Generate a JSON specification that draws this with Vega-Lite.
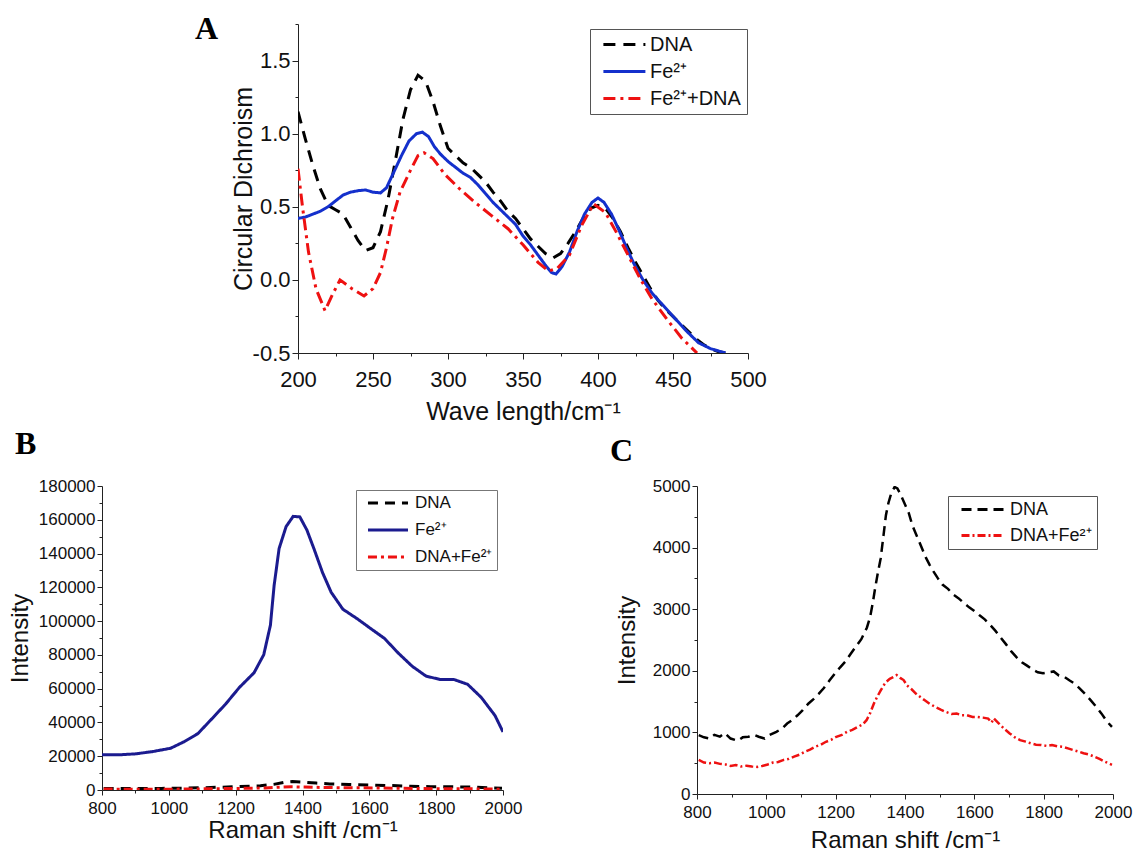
{
  "$schema": "https://vega.github.io/schema/vega-lite/v6.json",
  "background": "white",
  "padding": {"left": 8, "top": 13, "right": 2, "bottom": 2},
  "config": {
    "view": {"stroke": null},
    "font": "Liberation Sans",
    "axis": {"grid": false, "domainColor": "#222", "tickColor": "#222", "labelColor": "#111", "titleColor": "#111", "titleFontWeight": "normal", "labelFont": "Liberation Sans", "titleFont": "Liberation Sans", "domainWidth": 1, "tickWidth": 1, "labelOverlap": false, "labelFlush": false, "labelPadding": 2}
  },
  "spacing": 4,
  "resolve": {"scale": {"color": "independent", "strokeDash": "independent"}, "legend": {"color": "independent", "strokeDash": "independent"}},
  "vconcat": [
    {
      "bounds": "flush",
      "spacing": 0,
      "resolve": {"scale": {"color": "independent", "strokeDash": "independent"}, "legend": {"color": "independent", "strokeDash": "independent"}},
      "hconcat": [
        {"width": 196, "height": 1, "data": {"values": []}, "mark": {"type": "point", "opacity": 0}},
        {
          "width": 450, "height": 329,
          "title": {"text": "A", "anchor": "start", "frame": "group", "dx": -103, "offset": -58, "baseline": "alphabetic", "font": "Liberation Serif", "fontSize": 32, "fontWeight": "bold", "color": "#000"},
          "data": {"values": [
            {"s":"DNA","x":200,"y":1.15},{"s":"DNA","x":205,"y":0.96},{"s":"DNA","x":210,"y":0.78},{"s":"DNA","x":215,"y":0.62},{"s":"DNA","x":220,"y":0.51},{"s":"DNA","x":225,"y":0.48},{"s":"DNA","x":230,"y":0.45},{"s":"DNA","x":235,"y":0.36},{"s":"DNA","x":240,"y":0.27},{"s":"DNA","x":245,"y":0.2},{"s":"DNA","x":250,"y":0.22},{"s":"DNA","x":255,"y":0.33},{"s":"DNA","x":260,"y":0.55},{"s":"DNA","x":265,"y":0.82},{"s":"DNA","x":270,"y":1.1},{"s":"DNA","x":275,"y":1.3},{"s":"DNA","x":280,"y":1.4},{"s":"DNA","x":285,"y":1.36},{"s":"DNA","x":290,"y":1.22},{"s":"DNA","x":295,"y":1.05},{"s":"DNA","x":300,"y":0.9},{"s":"DNA","x":305,"y":0.85},{"s":"DNA","x":310,"y":0.8},{"s":"DNA","x":315,"y":0.77},{"s":"DNA","x":320,"y":0.72},{"s":"DNA","x":325,"y":0.67},{"s":"DNA","x":330,"y":0.6},{"s":"DNA","x":335,"y":0.54},{"s":"DNA","x":340,"y":0.47},{"s":"DNA","x":345,"y":0.42},{"s":"DNA","x":350,"y":0.35},{"s":"DNA","x":355,"y":0.28},{"s":"DNA","x":360,"y":0.23},{"s":"DNA","x":365,"y":0.18},{"s":"DNA","x":370,"y":0.15},{"s":"DNA","x":375,"y":0.18},{"s":"DNA","x":380,"y":0.25},{"s":"DNA","x":385,"y":0.33},{"s":"DNA","x":390,"y":0.42},{"s":"DNA","x":395,"y":0.49},{"s":"DNA","x":400,"y":0.51},{"s":"DNA","x":405,"y":0.49},{"s":"DNA","x":410,"y":0.42},{"s":"DNA","x":415,"y":0.33},{"s":"DNA","x":420,"y":0.22},{"s":"DNA","x":425,"y":0.12},{"s":"DNA","x":430,"y":0.03},{"s":"DNA","x":435,"y":-0.06},{"s":"DNA","x":440,"y":-0.14},{"s":"DNA","x":445,"y":-0.2},{"s":"DNA","x":450,"y":-0.25},{"s":"DNA","x":455,"y":-0.3},{"s":"DNA","x":460,"y":-0.35},{"s":"DNA","x":465,"y":-0.4},{"s":"DNA","x":470,"y":-0.44},{"s":"DNA","x":475,"y":-0.47},{"s":"DNA","x":480,"y":-0.49},{"s":"DNA","x":485,"y":-0.5},
            {"s":"Fe²⁺","x":200,"y":0.42},{"s":"Fe²⁺","x":205,"y":0.43},{"s":"Fe²⁺","x":210,"y":0.45},{"s":"Fe²⁺","x":215,"y":0.47},{"s":"Fe²⁺","x":220,"y":0.5},{"s":"Fe²⁺","x":225,"y":0.54},{"s":"Fe²⁺","x":230,"y":0.58},{"s":"Fe²⁺","x":235,"y":0.6},{"s":"Fe²⁺","x":240,"y":0.61},{"s":"Fe²⁺","x":245,"y":0.615},{"s":"Fe²⁺","x":250,"y":0.6},{"s":"Fe²⁺","x":255,"y":0.595},{"s":"Fe²⁺","x":259,"y":0.63},{"s":"Fe²⁺","x":264,"y":0.74},{"s":"Fe²⁺","x":269,"y":0.85},{"s":"Fe²⁺","x":274,"y":0.95},{"s":"Fe²⁺","x":279,"y":1.0},{"s":"Fe²⁺","x":283,"y":1.01},{"s":"Fe²⁺","x":287,"y":0.98},{"s":"Fe²⁺","x":291,"y":0.91},{"s":"Fe²⁺","x":295,"y":0.86},{"s":"Fe²⁺","x":300,"y":0.81},{"s":"Fe²⁺","x":305,"y":0.77},{"s":"Fe²⁺","x":310,"y":0.73},{"s":"Fe²⁺","x":315,"y":0.7},{"s":"Fe²⁺","x":320,"y":0.65},{"s":"Fe²⁺","x":325,"y":0.59},{"s":"Fe²⁺","x":330,"y":0.53},{"s":"Fe²⁺","x":335,"y":0.48},{"s":"Fe²⁺","x":340,"y":0.43},{"s":"Fe²⁺","x":345,"y":0.38},{"s":"Fe²⁺","x":350,"y":0.3},{"s":"Fe²⁺","x":355,"y":0.24},{"s":"Fe²⁺","x":360,"y":0.17},{"s":"Fe²⁺","x":365,"y":0.1},{"s":"Fe²⁺","x":369,"y":0.05},{"s":"Fe²⁺","x":372,"y":0.04},{"s":"Fe²⁺","x":376,"y":0.09},{"s":"Fe²⁺","x":381,"y":0.19},{"s":"Fe²⁺","x":386,"y":0.33},{"s":"Fe²⁺","x":391,"y":0.45},{"s":"Fe²⁺","x":396,"y":0.53},{"s":"Fe²⁺","x":400,"y":0.56},{"s":"Fe²⁺","x":404,"y":0.53},{"s":"Fe²⁺","x":409,"y":0.45},{"s":"Fe²⁺","x":414,"y":0.34},{"s":"Fe²⁺","x":419,"y":0.22},{"s":"Fe²⁺","x":424,"y":0.11},{"s":"Fe²⁺","x":430,"y":0.0},{"s":"Fe²⁺","x":436,"y":-0.09},{"s":"Fe²⁺","x":443,"y":-0.17},{"s":"Fe²⁺","x":451,"y":-0.26},{"s":"Fe²⁺","x":459,"y":-0.35},{"s":"Fe²⁺","x":467,"y":-0.43},{"s":"Fe²⁺","x":475,"y":-0.47},{"s":"Fe²⁺","x":485,"y":-0.5},
            {"s":"Fe²⁺+DNA","x":200,"y":0.76},{"s":"Fe²⁺+DNA","x":203,"y":0.5},{"s":"Fe²⁺+DNA","x":207,"y":0.19},{"s":"Fe²⁺+DNA","x":212,"y":-0.06},{"s":"Fe²⁺+DNA","x":218,"y":-0.21},{"s":"Fe²⁺+DNA","x":223,"y":-0.1},{"s":"Fe²⁺+DNA","x":228,"y":0.0},{"s":"Fe²⁺+DNA","x":236,"y":-0.06},{"s":"Fe²⁺+DNA","x":244,"y":-0.11},{"s":"Fe²⁺+DNA","x":250,"y":-0.06},{"s":"Fe²⁺+DNA","x":255,"y":0.05},{"s":"Fe²⁺+DNA","x":259,"y":0.22},{"s":"Fe²⁺+DNA","x":263,"y":0.42},{"s":"Fe²⁺+DNA","x":268,"y":0.6},{"s":"Fe²⁺+DNA","x":275,"y":0.75},{"s":"Fe²⁺+DNA","x":280,"y":0.85},{"s":"Fe²⁺+DNA","x":284,"y":0.87},{"s":"Fe²⁺+DNA","x":290,"y":0.83},{"s":"Fe²⁺+DNA","x":298,"y":0.72},{"s":"Fe²⁺+DNA","x":308,"y":0.62},{"s":"Fe²⁺+DNA","x":318,"y":0.53},{"s":"Fe²⁺+DNA","x":329,"y":0.44},{"s":"Fe²⁺+DNA","x":340,"y":0.35},{"s":"Fe²⁺+DNA","x":350,"y":0.24},{"s":"Fe²⁺+DNA","x":360,"y":0.12},{"s":"Fe²⁺+DNA","x":367,"y":0.06},{"s":"Fe²⁺+DNA","x":373,"y":0.08},{"s":"Fe²⁺+DNA","x":381,"y":0.17},{"s":"Fe²⁺+DNA","x":389,"y":0.37},{"s":"Fe²⁺+DNA","x":397,"y":0.52},{"s":"Fe²⁺+DNA","x":405,"y":0.46},{"s":"Fe²⁺+DNA","x":412,"y":0.33},{"s":"Fe²⁺+DNA","x":420,"y":0.17},{"s":"Fe²⁺+DNA","x":428,"y":0.01},{"s":"Fe²⁺+DNA","x":436,"y":-0.13},{"s":"Fe²⁺+DNA","x":446,"y":-0.27},{"s":"Fe²⁺+DNA","x":456,"y":-0.4},{"s":"Fe²⁺+DNA","x":466,"y":-0.5}
          ]},
          "mark": {"type": "line", "clip": true, "strokeWidth": 3},
          "encoding": {
            "x": {"field": "x", "type": "quantitative", "scale": {"domain": [200, 500], "nice": false, "zero": false},
              "axis": {"values": [200,225,250,275,300,325,350,375,400,425,450,475,500], "labelExpr": "datum.value % 50 === 0 ? datum.label : ''", "format": "d",
                "tickSize": {"condition": {"test": "datum.value % 50 === 0", "value": 6}, "value": 3},
                "title": "Wave length/cm⁻¹", "titleFontSize": 25, "labelFontSize": 22, "labelPadding": 10, "titlePadding": 9}},
            "y": {"field": "y", "type": "quantitative", "scale": {"domain": [-0.5, 1.75], "nice": false, "zero": false},
              "axis": {"values": [-0.5,-0.25,0,0.25,0.5,0.75,1,1.25,1.5,1.75], "labelExpr": "(datum.value*4) % 2 === 0 ? replace(format(datum.value, '.1f'), '−', '-') : ''",
                "tickSize": {"condition": {"test": "(datum.value*4) % 2 === 0", "value": 6}, "value": 3},
                "title": "Circular Dichroism", "titleFontSize": 25, "labelFontSize": 22, "titleX": -42}},
            "color": {"field": "s", "type": "nominal", "scale": {"domain": ["DNA", "Fe²⁺", "Fe²⁺+DNA"], "range": ["#000000", "#1430cc", "#ee1111"]},
              "legend": {"title": null, "orient": "none", "legendX": 292, "legendY": 5, "direction": "vertical", "strokeColor": "#555", "fillColor": "#fff", "padding": 5.5, "symbolType": "M-0.3,0H5.7", "symbolSize": 196, "symbolStrokeWidth": 3, "labelFontSize": 20, "labelFont": "Liberation Sans", "labelColor": "#111", "labelOffset": 34.5, "rowPadding": 7, "labelLimit": 300}},
            "strokeDash": {"field": "s", "type": "nominal", "scale": {"domain": ["DNA", "Fe²⁺", "Fe²⁺+DNA"], "range": [[12, 8], [1, 0], [12, 5, 3, 5]]},
              "legend": {"title": null, "orient": "none", "legendX": 292, "legendY": 5, "direction": "vertical", "strokeColor": "#555", "fillColor": "#fff", "padding": 5.5, "symbolType": "M-0.3,0H5.7", "symbolSize": 196, "symbolStrokeWidth": 3, "labelFontSize": 20, "labelFont": "Liberation Sans", "labelColor": "#111", "labelOffset": 34.5, "rowPadding": 7, "labelLimit": 300}}
          }
        }
      ]
    },
    {
      "bounds": "flush",
      "spacing": 194,
      "resolve": {"scale": {"color": "independent", "strokeDash": "independent"}, "legend": {"color": "independent", "strokeDash": "independent"}},
      "hconcat": [
        {
          "width": 401, "height": 304,
          "title": {"text": "B", "anchor": "start", "frame": "group", "dx": -87, "offset": -9, "baseline": "alphabetic", "font": "Liberation Serif", "fontSize": 32, "fontWeight": "bold", "color": "#000"},
          "data": {"values": [
            {"s":"Fe²⁺","x":800,"y":20800},{"s":"Fe²⁺","x":850,"y":20800},{"s":"Fe²⁺","x":900,"y":21400},{"s":"Fe²⁺","x":950,"y":22700},{"s":"Fe²⁺","x":1005,"y":24700},{"s":"Fe²⁺","x":1046,"y":28600},{"s":"Fe²⁺","x":1087,"y":33400},{"s":"Fe²⁺","x":1129,"y":42200},{"s":"Fe²⁺","x":1170,"y":50900},{"s":"Fe²⁺","x":1211,"y":60700},{"s":"Fe²⁺","x":1255,"y":69400},{"s":"Fe²⁺","x":1284,"y":80100},{"s":"Fe²⁺","x":1304,"y":97600},{"s":"Fe²⁺","x":1315,"y":121000},{"s":"Fe²⁺","x":1330,"y":143000},{"s":"Fe²⁺","x":1351,"y":156000},{"s":"Fe²⁺","x":1372,"y":162000},{"s":"Fe²⁺","x":1392,"y":161700},{"s":"Fe²⁺","x":1413,"y":154000},{"s":"Fe²⁺","x":1434,"y":143000},{"s":"Fe²⁺","x":1460,"y":128700},{"s":"Fe²⁺","x":1486,"y":117000},{"s":"Fe²⁺","x":1521,"y":107000},{"s":"Fe²⁺","x":1563,"y":101500},{"s":"Fe²⁺","x":1604,"y":95600},{"s":"Fe²⁺","x":1645,"y":89800},{"s":"Fe²⁺","x":1687,"y":81000},{"s":"Fe²⁺","x":1728,"y":73300},{"s":"Fe²⁺","x":1770,"y":67400},{"s":"Fe²⁺","x":1811,"y":65500},{"s":"Fe²⁺","x":1852,"y":65500},{"s":"Fe²⁺","x":1894,"y":62600},{"s":"Fe²⁺","x":1935,"y":54800},{"s":"Fe²⁺","x":1976,"y":44100},{"s":"Fe²⁺","x":2000,"y":34400},
            {"s":"DNA","x":805,"y":956},{"s":"DNA","x":866,"y":956},{"s":"DNA","x":917,"y":875},{"s":"DNA","x":978,"y":956},{"s":"DNA","x":1029,"y":1010},{"s":"DNA","x":1090,"y":1278},{"s":"DNA","x":1151,"y":1627},{"s":"DNA","x":1213,"y":2057},{"s":"DNA","x":1274,"y":2513},{"s":"DNA","x":1314,"y":3346},{"s":"DNA","x":1345,"y":4527},{"s":"DNA","x":1370,"y":4984},{"s":"DNA","x":1401,"y":4688},{"s":"DNA","x":1441,"y":4098},{"s":"DNA","x":1482,"y":3614},{"s":"DNA","x":1539,"y":3238},{"s":"DNA","x":1600,"y":2970},{"s":"DNA","x":1661,"y":2648},{"s":"DNA","x":1722,"y":2218},{"s":"DNA","x":1783,"y":1976},{"s":"DNA","x":1844,"y":1923},{"s":"DNA","x":1905,"y":1708},{"s":"DNA","x":1967,"y":1305},{"s":"DNA","x":1997,"y":1090},
            {"s":"DNA+Fe²⁺","x":805,"y":553},{"s":"DNA+Fe²⁺","x":866,"y":489},{"s":"DNA+Fe²⁺","x":927,"y":446},{"s":"DNA+Fe²⁺","x":988,"y":456},{"s":"DNA+Fe²⁺","x":1050,"y":553},{"s":"DNA+Fe²⁺","x":1111,"y":687},{"s":"DNA+Fe²⁺","x":1172,"y":848},{"s":"DNA+Fe²⁺","x":1233,"y":1010},{"s":"DNA+Fe²⁺","x":1289,"y":1198},{"s":"DNA+Fe²⁺","x":1330,"y":1681},{"s":"DNA+Fe²⁺","x":1366,"y":1896},{"s":"DNA+Fe²⁺","x":1406,"y":1761},{"s":"DNA+Fe²⁺","x":1457,"y":1520},{"s":"DNA+Fe²⁺","x":1518,"y":1332},{"s":"DNA+Fe²⁺","x":1579,"y":1278},{"s":"DNA+Fe²⁺","x":1640,"y":1224},{"s":"DNA+Fe²⁺","x":1702,"y":983},{"s":"DNA+Fe²⁺","x":1763,"y":822},{"s":"DNA+Fe²⁺","x":1824,"y":795},{"s":"DNA+Fe²⁺","x":1885,"y":714},{"s":"DNA+Fe²⁺","x":1946,"y":607},{"s":"DNA+Fe²⁺","x":1997,"y":473}
          ]},
          "mark": {"type": "line", "clip": true, "strokeWidth": 3},
          "encoding": {
            "x": {"field": "x", "type": "quantitative", "scale": {"domain": [800, 2000], "nice": false, "zero": false},
              "axis": {"values": [800,900,1000,1100,1200,1300,1400,1500,1600,1700,1800,1900,2000], "format": "d", "labelExpr": "datum.value % 200 === 0 ? datum.label : ''",
                "tickSize": {"condition": {"test": "datum.value % 200 === 0", "value": 5}, "value": 3},
                "title": "Raman shift /cm⁻¹", "titleFontSize": 24, "labelFontSize": 17, "labelPadding": 5, "titlePadding": 2}},
            "y": {"field": "y", "type": "quantitative", "scale": {"domain": [0, 180000], "nice": false, "zero": false},
              "axis": {"values": [0,10000,20000,30000,40000,50000,60000,70000,80000,90000,100000,110000,120000,130000,140000,150000,160000,170000,180000], "format": "d", "labelExpr": "datum.value % 20000 === 0 ? datum.label : ''",
                "tickSize": {"condition": {"test": "datum.value % 20000 === 0", "value": 5}, "value": 3},
                "title": "Intensity", "titleFontSize": 24, "labelFontSize": 17, "titlePadding": 6}},
            "color": {"field": "s", "type": "nominal", "scale": {"domain": ["DNA", "Fe²⁺", "DNA+Fe²⁺"], "range": ["#000000", "#1b1b8f", "#ee1111"]},
              "legend": {"title": null, "orient": "none", "legendX": 254, "legendY": 4, "direction": "vertical", "strokeColor": "#777", "fillColor": "#fff", "padding": 4.5, "symbolType": "M-0.17,0H6.5", "symbolSize": 144, "symbolStrokeWidth": 3, "labelFontSize": 17, "labelFont": "Liberation Sans", "labelColor": "#111", "labelOffset": 37.5, "rowPadding": 9, "labelLimit": 300}},
            "strokeDash": {"field": "s", "type": "nominal", "scale": {"domain": ["DNA", "Fe²⁺", "DNA+Fe²⁺"], "range": [[10, 7], [1, 0], [9, 4, 3, 4]]},
              "legend": {"title": null, "orient": "none", "legendX": 254, "legendY": 4, "direction": "vertical", "strokeColor": "#777", "fillColor": "#fff", "padding": 4.5, "symbolType": "M-0.17,0H6.5", "symbolSize": 144, "symbolStrokeWidth": 3, "labelFontSize": 17, "labelFont": "Liberation Sans", "labelColor": "#111", "labelOffset": 37.5, "rowPadding": 9, "labelLimit": 300}}
          }
        },
        {
          "width": 416, "height": 308,
          "title": {"text": "C", "anchor": "start", "frame": "group", "dx": -87, "offset": -16, "baseline": "alphabetic", "font": "Liberation Serif", "fontSize": 32, "fontWeight": "bold", "color": "#000"},
          "data": {"values": [
            {"s":"DNA","x":805,"y":956},{"s":"DNA","x":820,"y":920},{"s":"DNA","x":836,"y":900},{"s":"DNA","x":850,"y":960},{"s":"DNA","x":866,"y":930},{"s":"DNA","x":880,"y":990},{"s":"DNA","x":897,"y":900},{"s":"DNA","x":917,"y":865},{"s":"DNA","x":932,"y":920},{"s":"DNA","x":948,"y":929},{"s":"DNA","x":965,"y":960},{"s":"DNA","x":978,"y":930},{"s":"DNA","x":995,"y":900},{"s":"DNA","x":1009,"y":956},{"s":"DNA","x":1029,"y":1010},{"s":"DNA","x":1045,"y":1060},{"s":"DNA","x":1060,"y":1144},{"s":"DNA","x":1075,"y":1200},{"s":"DNA","x":1090,"y":1278},{"s":"DNA","x":1105,"y":1360},{"s":"DNA","x":1121,"y":1466},{"s":"DNA","x":1136,"y":1540},{"s":"DNA","x":1151,"y":1627},{"s":"DNA","x":1166,"y":1720},{"s":"DNA","x":1182,"y":1842},{"s":"DNA","x":1197,"y":1950},{"s":"DNA","x":1213,"y":2057},{"s":"DNA","x":1228,"y":2150},{"s":"DNA","x":1243,"y":2272},{"s":"DNA","x":1258,"y":2390},{"s":"DNA","x":1274,"y":2513},{"s":"DNA","x":1290,"y":2700},{"s":"DNA","x":1299,"y":2862},{"s":"DNA","x":1307,"y":3100},{"s":"DNA","x":1314,"y":3346},{"s":"DNA","x":1322,"y":3600},{"s":"DNA","x":1330,"y":3829},{"s":"DNA","x":1338,"y":4200},{"s":"DNA","x":1345,"y":4527},{"s":"DNA","x":1352,"y":4720},{"s":"DNA","x":1360,"y":4876},{"s":"DNA","x":1370,"y":4984},{"s":"DNA","x":1378,"y":4960},{"s":"DNA","x":1386,"y":4876},{"s":"DNA","x":1401,"y":4688},{"s":"DNA","x":1411,"y":4560},{"s":"DNA","x":1421,"y":4366},{"s":"DNA","x":1431,"y":4230},{"s":"DNA","x":1441,"y":4098},{"s":"DNA","x":1451,"y":3960},{"s":"DNA","x":1461,"y":3829},{"s":"DNA","x":1471,"y":3720},{"s":"DNA","x":1482,"y":3614},{"s":"DNA","x":1495,"y":3500},{"s":"DNA","x":1508,"y":3400},{"s":"DNA","x":1524,"y":3330},{"s":"DNA","x":1539,"y":3238},{"s":"DNA","x":1554,"y":3180},{"s":"DNA","x":1569,"y":3104},{"s":"DNA","x":1585,"y":3030},{"s":"DNA","x":1600,"y":2970},{"s":"DNA","x":1615,"y":2900},{"s":"DNA","x":1630,"y":2835},{"s":"DNA","x":1645,"y":2750},{"s":"DNA","x":1661,"y":2648},{"s":"DNA","x":1676,"y":2540},{"s":"DNA","x":1691,"y":2433},{"s":"DNA","x":1706,"y":2320},{"s":"DNA","x":1722,"y":2218},{"s":"DNA","x":1737,"y":2140},{"s":"DNA","x":1752,"y":2084},{"s":"DNA","x":1768,"y":2020},{"s":"DNA","x":1783,"y":1976},{"s":"DNA","x":1798,"y":1960},{"s":"DNA","x":1814,"y":1976},{"s":"DNA","x":1829,"y":1990},{"s":"DNA","x":1844,"y":1923},{"s":"DNA","x":1860,"y":1900},{"s":"DNA","x":1875,"y":1842},{"s":"DNA","x":1890,"y":1790},{"s":"DNA","x":1905,"y":1708},{"s":"DNA","x":1920,"y":1620},{"s":"DNA","x":1936,"y":1520},{"s":"DNA","x":1951,"y":1420},{"s":"DNA","x":1967,"y":1305},{"s":"DNA","x":1982,"y":1180},{"s":"DNA","x":1997,"y":1090},
            {"s":"DNA+Fe²⁺","x":805,"y":553},{"s":"DNA+Fe²⁺","x":820,"y":510},{"s":"DNA+Fe²⁺","x":836,"y":499},{"s":"DNA+Fe²⁺","x":851,"y":510},{"s":"DNA+Fe²⁺","x":866,"y":489},{"s":"DNA+Fe²⁺","x":882,"y":480},{"s":"DNA+Fe²⁺","x":897,"y":456},{"s":"DNA+Fe²⁺","x":912,"y":470},{"s":"DNA+Fe²⁺","x":927,"y":446},{"s":"DNA+Fe²⁺","x":943,"y":460},{"s":"DNA+Fe²⁺","x":958,"y":446},{"s":"DNA+Fe²⁺","x":973,"y":440},{"s":"DNA+Fe²⁺","x":988,"y":456},{"s":"DNA+Fe²⁺","x":1004,"y":480},{"s":"DNA+Fe²⁺","x":1019,"y":510},{"s":"DNA+Fe²⁺","x":1034,"y":520},{"s":"DNA+Fe²⁺","x":1050,"y":553},{"s":"DNA+Fe²⁺","x":1065,"y":570},{"s":"DNA+Fe²⁺","x":1080,"y":607},{"s":"DNA+Fe²⁺","x":1096,"y":640},{"s":"DNA+Fe²⁺","x":1111,"y":687},{"s":"DNA+Fe²⁺","x":1126,"y":720},{"s":"DNA+Fe²⁺","x":1141,"y":768},{"s":"DNA+Fe²⁺","x":1157,"y":800},{"s":"DNA+Fe²⁺","x":1172,"y":848},{"s":"DNA+Fe²⁺","x":1187,"y":880},{"s":"DNA+Fe²⁺","x":1202,"y":929},{"s":"DNA+Fe²⁺","x":1218,"y":960},{"s":"DNA+Fe²⁺","x":1233,"y":1010},{"s":"DNA+Fe²⁺","x":1248,"y":1040},{"s":"DNA+Fe²⁺","x":1264,"y":1090},{"s":"DNA+Fe²⁺","x":1278,"y":1130},{"s":"DNA+Fe²⁺","x":1289,"y":1198},{"s":"DNA+Fe²⁺","x":1300,"y":1320},{"s":"DNA+Fe²⁺","x":1310,"y":1466},{"s":"DNA+Fe²⁺","x":1320,"y":1580},{"s":"DNA+Fe²⁺","x":1330,"y":1681},{"s":"DNA+Fe²⁺","x":1338,"y":1760},{"s":"DNA+Fe²⁺","x":1345,"y":1815},{"s":"DNA+Fe²⁺","x":1356,"y":1870},{"s":"DNA+Fe²⁺","x":1366,"y":1896},{"s":"DNA+Fe²⁺","x":1376,"y":1930},{"s":"DNA+Fe²⁺","x":1386,"y":1885},{"s":"DNA+Fe²⁺","x":1396,"y":1850},{"s":"DNA+Fe²⁺","x":1406,"y":1761},{"s":"DNA+Fe²⁺","x":1419,"y":1700},{"s":"DNA+Fe²⁺","x":1432,"y":1627},{"s":"DNA+Fe²⁺","x":1445,"y":1570},{"s":"DNA+Fe²⁺","x":1457,"y":1520},{"s":"DNA+Fe²⁺","x":1472,"y":1460},{"s":"DNA+Fe²⁺","x":1488,"y":1412},{"s":"DNA+Fe²⁺","x":1503,"y":1370},{"s":"DNA+Fe²⁺","x":1518,"y":1332},{"s":"DNA+Fe²⁺","x":1534,"y":1300},{"s":"DNA+Fe²⁺","x":1549,"y":1305},{"s":"DNA+Fe²⁺","x":1564,"y":1280},{"s":"DNA+Fe²⁺","x":1579,"y":1278},{"s":"DNA+Fe²⁺","x":1595,"y":1250},{"s":"DNA+Fe²⁺","x":1610,"y":1251},{"s":"DNA+Fe²⁺","x":1625,"y":1240},{"s":"DNA+Fe²⁺","x":1640,"y":1224},{"s":"DNA+Fe²⁺","x":1650,"y":1160},{"s":"DNA+Fe²⁺","x":1656,"y":1230},{"s":"DNA+Fe²⁺","x":1671,"y":1144},{"s":"DNA+Fe²⁺","x":1686,"y":1060},{"s":"DNA+Fe²⁺","x":1702,"y":983},{"s":"DNA+Fe²⁺","x":1717,"y":920},{"s":"DNA+Fe²⁺","x":1732,"y":875},{"s":"DNA+Fe²⁺","x":1748,"y":850},{"s":"DNA+Fe²⁺","x":1763,"y":822},{"s":"DNA+Fe²⁺","x":1778,"y":800},{"s":"DNA+Fe²⁺","x":1793,"y":795},{"s":"DNA+Fe²⁺","x":1809,"y":780},{"s":"DNA+Fe²⁺","x":1824,"y":795},{"s":"DNA+Fe²⁺","x":1839,"y":775},{"s":"DNA+Fe²⁺","x":1854,"y":768},{"s":"DNA+Fe²⁺","x":1870,"y":740},{"s":"DNA+Fe²⁺","x":1885,"y":714},{"s":"DNA+Fe²⁺","x":1900,"y":690},{"s":"DNA+Fe²⁺","x":1915,"y":661},{"s":"DNA+Fe²⁺","x":1931,"y":640},{"s":"DNA+Fe²⁺","x":1946,"y":607},{"s":"DNA+Fe²⁺","x":1961,"y":570},{"s":"DNA+Fe²⁺","x":1976,"y":526},{"s":"DNA+Fe²⁺","x":1997,"y":473}
          ]},
          "mark": {"type": "line", "clip": true, "strokeWidth": 2.5},
          "encoding": {
            "x": {"field": "x", "type": "quantitative", "scale": {"domain": [800, 2000], "nice": false, "zero": false},
              "axis": {"values": [800,900,1000,1100,1200,1300,1400,1500,1600,1700,1800,1900,2000], "format": "d", "labelExpr": "datum.value % 200 === 0 ? datum.label : ''",
                "tickSize": {"condition": {"test": "datum.value % 200 === 0", "value": 5}, "value": 3},
                "title": "Raman shift /cm⁻¹", "titleFontSize": 24, "labelFontSize": 17, "labelPadding": 5, "titlePadding": 8}},
            "y": {"field": "y", "type": "quantitative", "scale": {"domain": [0, 5000], "nice": false, "zero": false},
              "axis": {"values": [0,500,1000,1500,2000,2500,3000,3500,4000,4500,5000], "format": "d", "labelExpr": "datum.value % 1000 === 0 ? datum.label : ''",
                "tickSize": {"condition": {"test": "datum.value % 1000 === 0", "value": 5}, "value": 3},
                "title": "Intensity", "titleFontSize": 24, "labelFontSize": 17, "titlePadding": 13}},
            "color": {"field": "s", "type": "nominal", "scale": {"domain": ["DNA", "DNA+Fe²⁺"], "range": ["#000000", "#ee1111"]},
              "legend": {"title": null, "orient": "none", "legendX": 251, "legendY": 10, "direction": "vertical", "strokeColor": "#555", "fillColor": "#fff", "padding": 4.5, "symbolType": "M0,0H7", "symbolSize": 144, "symbolStrokeWidth": 3, "labelFontSize": 18, "labelFont": "Liberation Sans", "labelColor": "#111", "labelOffset": 39.5, "rowPadding": 8, "labelLimit": 300}},
            "strokeDash": {"field": "s", "type": "nominal", "scale": {"domain": ["DNA", "DNA+Fe²⁺"], "range": [[10, 6], [8, 3, 2, 3]]},
              "legend": {"title": null, "orient": "none", "legendX": 251, "legendY": 10, "direction": "vertical", "strokeColor": "#555", "fillColor": "#fff", "padding": 4.5, "symbolType": "M0,0H7", "symbolSize": 144, "symbolStrokeWidth": 3, "labelFontSize": 18, "labelFont": "Liberation Sans", "labelColor": "#111", "labelOffset": 39.5, "rowPadding": 8, "labelLimit": 300}}
          }
        }
      ]
    }
  ]
}
